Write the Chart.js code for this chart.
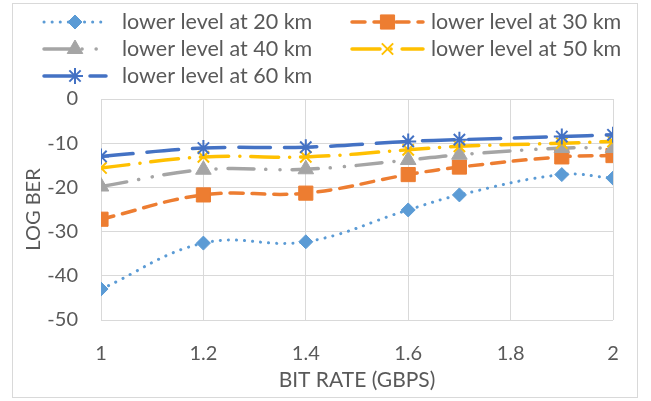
<!DOCTYPE html>
<html>
<head>
<meta charset="utf-8">
<script src="https://cdn.jsdelivr.net/npm/chart.js@4.4.1/dist/chart.umd.min.js"></script>
<style>
  html, body { margin: 0; padding: 0; background: #fff; }
  #wrap { width: 651px; height: 401px; position: relative; }
</style>
</head>
<body>
<div id="wrap"><canvas id="berChart" width="651" height="401"></canvas></div>
<script>
// bit rate in Gbps (x values of every series)
var bitRates = [1, 1.2, 1.4, 1.6, 1.7, 1.9, 2];

// log BER
var ber20 = [-43.0, -32.6, -32.3, -25.1, -21.7, -17.1, -17.9];
var ber30 = [-27.2, -21.7, -21.3, -17.1, -15.4, -13.1, -12.8];
var ber40 = [-19.8, -16.0, -15.9, -13.8, -12.6, -11.1, -11.1];
var ber50 = [-15.6, -13.1, -13.1, -11.5, -10.7, -10.0, -9.6];
var ber60 = [-13.0, -11.1, -10.9, -9.6, -9.2, -8.5, -8.1];

var seriesNames = ["lower level at 20 km", "lower level at 30 km", "lower level at 40 km",
                   "lower level at 50 km", "lower level at 60 km"];

var FONT = "Lato, 'Open Sans', sans-serif";
var TEXT = "#595959";
var GRID = "#D9D9D9";

// punkty (x, y) dla serii
var pts = ys => bitRates.map((x, i) => ({x: x, y: ys[i]}));

var series = [
  {data: ber20, color: "#5B9BD5", dash: [0.1, 8], width: 3, style: "rectRot", r: 7, bw: 1},
  {data: ber30, color: "#ED7D31", dash: [13, 9], width: 3.5, style: "rect", r: 10, bw: 1},
  {data: ber40, color: "#A5A5A5", dash: [26, 12, 0.1, 14, 0.1, 12], width: 3.5, style: "triangle", r: 9, bw: 1},
  {data: ber50, color: "#FFC000", dash: [28, 11, 0.1, 11], width: 3.5, style: "crossRot", r: 8, bw: 2},
  {data: ber60, color: "#4472C4", dash: [32, 14], width: 3.5, style: "star", r: 8, bw: 2}
];

// legenda jak w Excelu: kreska + znacznik w środku
var legendPos = [
  {x0: 44, x1: 106, tx: 122, y: 22},
  {x0: 352, x1: 423, tx: 431, y: 22},
  {x0: 44, x1: 106, tx: 122, y: 49},
  {x0: 352, x1: 423, tx: 431, y: 49},
  {x0: 44, x1: 106, tx: 122, y: 76}
];

var excelLegend = {
  id: "excelLegend",
  afterDraw(chart) {
    var ctx = chart.ctx;
    ctx.save();
    // ramka wykresu
    ctx.strokeStyle = GRID;
    ctx.lineWidth = 1;
    ctx.strokeRect(12.5, 3.5, 625, 394);

    series.forEach((s, i) => {
      var p = legendPos[i];
      ctx.save();
      ctx.strokeStyle = s.color;
      ctx.lineWidth = s.width;
      ctx.lineCap = "round";
      ctx.setLineDash(s.dash);
      ctx.beginPath();
      ctx.moveTo(p.x0, p.y);
      ctx.lineTo(p.x1, p.y);
      ctx.stroke();
      ctx.restore();

      ctx.save();
      ctx.fillStyle = s.color;
      ctx.strokeStyle = s.color;
      ctx.lineWidth = s.bw;
      Chart.helpers.drawPoint(ctx, {pointStyle: s.style, radius: s.r, borderWidth: s.bw, rotation: 0},
        (p.x0 + p.x1) / 2, p.y);
      ctx.restore();

      ctx.fillStyle = TEXT;
      ctx.font = "21.5px " + FONT;
      ctx.textBaseline = "middle";
      ctx.textAlign = "left";
      ctx.fillText(seriesNames[i], p.tx, p.y);
    });
    ctx.restore();
  }
};

var datasets = series.map((s, i) => ({
  label: seriesNames[i],
  data: pts(s.data),
  borderColor: s.color,
  backgroundColor: s.color,
  borderWidth: s.width,
  borderDash: s.dash,
  borderCapStyle: "round",
  tension: 0.4,
  pointStyle: s.style,
  pointRadius: s.r,
  pointBorderWidth: s.bw,
  pointBackgroundColor: s.color,
  pointBorderColor: s.color,
  order: series.length - i
}));

const chart = new Chart(document.getElementById("berChart"), {
  type: "scatter",
  data: {datasets: datasets},
  options: {
    responsive: false,
    animation: false,
    showLine: true,
    layout: {padding: {top: 99, right: 38, left: 0, bottom: 0}},
    plugins: {legend: {display: false}, tooltip: {enabled: false}},
    scales: {
      x: {
        type: "linear",
        min: 1,
        max: 2,
        afterFit: s => { s.height = 81; },
        ticks: {stepSize: 0.2, color: TEXT, font: {family: FONT, size: 20}, padding: 22,
                callback: v => Math.round(v * 10) / 10},
        grid: {color: GRID, drawTicks: false},
        border: {display: false},
        title: {display: true, text: "BIT RATE (GBPS)", color: TEXT,
                font: {family: FONT, size: 21}, padding: {top: 0, bottom: 8}}
      },
      y: {
        min: -50,
        max: 0,
        afterFit: s => { s.width = 101; },
        ticks: {stepSize: 10, color: TEXT, font: {family: FONT, size: 20}, padding: 23},
        grid: {color: GRID, drawTicks: false},
        border: {display: false},
        title: {display: true, text: "LOG BER", color: TEXT,
                font: {family: FONT, size: 20}, padding: {top: 22, bottom: 0}}
      }
    }
  },
  plugins: [excelLegend]
});
</script>
</body>
</html>
